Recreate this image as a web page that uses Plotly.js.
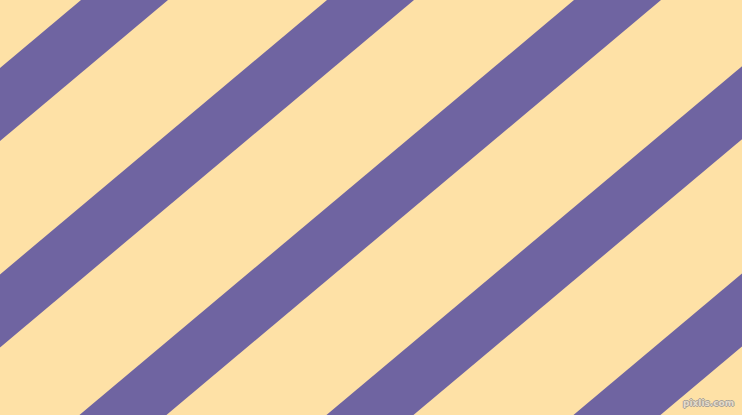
<!DOCTYPE html>
<html>
<head>
<meta charset="utf-8">
<script src="https://cdn.plot.ly/plotly-3.0.1.min.js"></script>
<style>html,body{margin:0;padding:0;background:#FEE1A6;overflow:hidden}#chart{width:742px;height:415px}</style>
</head>
<body>
<div id="chart"></div>
<script>
// Stripe data: x where each stripe's left edge meets the top edge, stripe width (along x), angle in degrees
const stripeTopLeft = [-166, 81, 327, 574, 821, 1068];
const stripeWidth = 87;
const stripeAngleDeg = 40;
const canvasW = 742;
const canvasH = 415;
const stripeColor = '#6F64A1';
const bgColor = '#FEE1A6';

const slope = Math.tan(stripeAngleDeg * Math.PI / 180);
const shift = canvasH / slope;

const traces = stripeTopLeft.map(a => ({
  type: 'scatter',
  mode: 'lines',
  x: [a, a + stripeWidth, a + stripeWidth - shift, a - shift, a],
  y: [0, 0, canvasH, canvasH, 0],
  fill: 'toself',
  fillcolor: stripeColor,
  line: {width: 0, color: stripeColor},
  hoverinfo: 'skip',
  showlegend: false
}));

const layout = {
  width: canvasW,
  height: canvasH,
  margin: {l: 0, r: 0, t: 0, b: 0, pad: 0},
  paper_bgcolor: bgColor,
  plot_bgcolor: bgColor,
  xaxis: {range: [0, canvasW], visible: false, fixedrange: true},
  yaxis: {range: [canvasH, 0], visible: false, fixedrange: true},
  showlegend: false,
  annotations: [{
    text: 'pixlis.com',
    xref: 'paper', yref: 'paper',
    x: 0.992, y: 0.012,
    xanchor: 'right', yanchor: 'bottom',
    showarrow: false,
    font: {family: 'DejaVu Sans', size: 9, color: '#E6DCC8', weight: 'bold',
           shadow: '1px 0 0 #A8A29A, -1px 0 0 #A8A29A, 0 1px 0 #A8A29A, 0 -1px 0 #A8A29A'}
  }]
};

Plotly.newPlot('chart', traces, layout, {staticPlot: true, displayModeBar: false});
</script>
</body>
</html>
